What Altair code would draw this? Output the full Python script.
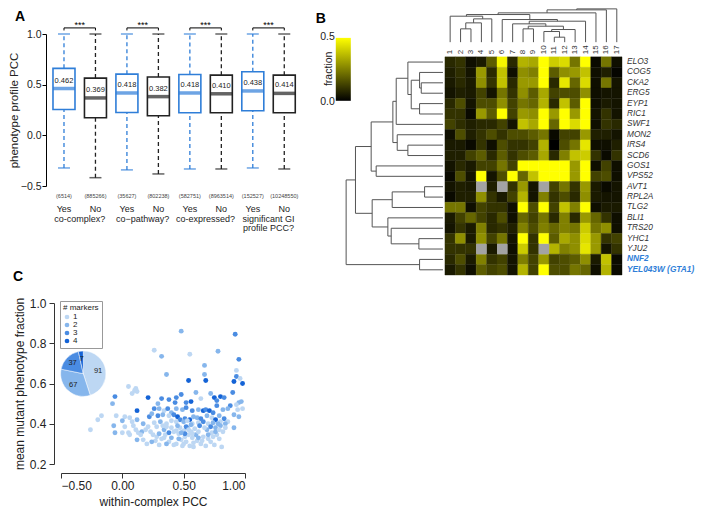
import altair as alt
import pandas as pd

FONT = "Liberation Sans"
BLUE = "#2F7ED8"
DARK = "#222222"

# ---------------- Panel A data ----------------
a_answer = ["Yes", "No", "Yes", "No", "Yes", "No", "Yes", "No"]
a_median = [0.462, 0.369, 0.418, 0.382, 0.418, 0.410, 0.438, 0.414]
a_q1 = [0.255, 0.173, 0.226, 0.193, 0.223, 0.223, 0.242, 0.223]
a_q3 = [0.661, 0.565, 0.604, 0.575, 0.601, 0.594, 0.628, 0.594]
a_lower = [-0.322, -0.418, -0.341, -0.381, -0.332, -0.332, -0.322, -0.332]
a_upper = [1.0, 1.0, 1.0, 1.0, 1.0, 1.0, 1.0, 1.0]
a_n = ["(6514)", "(885266)", "(35627)", "(802238)", "(582751)", "(8963514)", "(152527)", "(10248550)"]
a_group_line1 = ["co-complex?", "co\u2212pathway?", "co-expressed?", "significant GI"]
a_group_line2 = ["", "", "", "profile PCC?"]
a_stars = ["***", "***", "***", "***"]

# ---------------- Panel B data ----------------
b_cols = [str(i) for i in range(1, 18)]
b_rows = ["ELO3", "COG5", "CKA2", "ERG5", "EYP1", "RIC1", "SWF1", "MON2", "IRS4", "SCD6",
          "GOS1", "VPS52", "AVT1", "RPL2A", "TLG2", "BLI1", "TRS20", "YHC1", "YJU2",
          "NNF2", "YEL043W (GTA1)"]
b_highlight = ["NNF2", "YEL043W (GTA1)"]
b_legend_labels = ["0.5", "0.0"]
N = None
b_values = [
    [0.08, 0.10, 0.03, 0.05, 0.18, 0.48, 0.08, 0.35, 0.33, 0.50, 0.40, 0.43, 0.23, 0.50, 0.02, 0.23, 0.03],
    [0.06, 0.09, 0.04, 0.30, 0.08, 0.38, 0.03, 0.28, 0.25, 0.50, 0.18, 0.28, 0.30, 0.38, 0.03, 0.06, 0.01],
    [0.05, 0.08, 0.05, 0.28, 0.10, 0.38, 0.08, 0.30, 0.30, 0.50, 0.08, 0.45, 0.20, 0.43, 0.03, 0.23, 0.04],
    [0.04, 0.06, 0.05, 0.13, 0.04, 0.23, 0.10, 0.28, 0.18, 0.33, 0.13, 0.15, 0.15, 0.28, 0.03, 0.04, 0.04],
    [0.08, 0.15, 0.04, 0.15, 0.15, 0.28, 0.13, 0.23, 0.20, 0.35, 0.08, 0.38, 0.18, 0.50, 0.03, 0.05, 0.04],
    [0.10, 0.10, 0.02, 0.30, 0.18, 0.50, 0.13, 0.30, 0.28, 0.50, 0.30, 0.50, 0.30, 0.50, 0.04, 0.10, 0.04],
    [0.13, 0.09, 0.06, 0.08, 0.08, 0.13, 0.04, 0.38, 0.33, 0.50, 0.20, 0.50, 0.43, 0.50, 0.03, 0.10, 0.08],
    [0.03, 0.15, 0.06, 0.10, 0.15, 0.10, 0.15, 0.15, 0.18, 0.23, 0.02, 0.13, 0.13, 0.30, 0.06, 0.06, 0.04],
    [0.05, 0.05, 0.02, 0.10, 0.03, 0.15, 0.10, 0.10, 0.13, 0.35, 0.00, 0.15, 0.23, 0.45, 0.03, 0.03, 0.06],
    [0.06, 0.06, 0.13, 0.18, 0.08, 0.18, 0.10, 0.15, 0.18, 0.33, 0.08, 0.25, 0.38, 0.40, 0.10, 0.02, 0.10],
    [0.04, 0.08, 0.05, 0.13, 0.13, 0.23, 0.13, 0.50, 0.50, 0.50, 0.50, 0.50, 0.30, 0.50, 0.03, 0.13, 0.03],
    [0.02, 0.15, 0.04, 0.50, 0.04, 0.15, 0.50, 0.20, 0.38, 0.50, 0.50, 0.50, 0.30, 0.50, 0.13, 0.15, 0.03],
    [0.04, 0.06, 0.05, N, 0.06, N, 0.10, 0.30, 0.04, N, 0.13, 0.23, 0.10, 0.30, 0.05, 0.02, 0.04],
    [0.02, 0.06, 0.06, 0.28, 0.10, 0.05, 0.13, 0.35, 0.04, 0.25, 0.10, 0.15, 0.08, 0.28, 0.05, 0.04, 0.04],
    [0.23, 0.23, 0.03, 0.13, 0.10, 0.10, 0.03, 0.50, 0.15, 0.50, 0.13, 0.38, 0.25, 0.50, 0.03, 0.05, 0.05],
    [0.05, 0.13, 0.20, 0.13, 0.08, 0.15, 0.03, 0.20, 0.13, 0.23, 0.08, 0.25, 0.08, 0.30, 0.20, 0.10, 0.03],
    [0.04, 0.10, 0.05, 0.25, 0.08, 0.10, 0.06, 0.25, 0.15, 0.25, 0.20, 0.25, 0.23, 0.40, 0.23, 0.28, 0.03],
    [0.10, 0.28, 0.05, 0.28, 0.13, 0.23, 0.04, 0.50, 0.10, 0.50, 0.18, 0.33, 0.28, 0.43, 0.30, 0.10, 0.13],
    [0.10, 0.10, 0.10, N, 0.05, N, 0.03, 0.40, 0.10, N, 0.35, 0.25, 0.28, 0.45, 0.30, 0.04, 0.10],
    [0.08, 0.15, 0.05, 0.25, 0.10, 0.13, 0.04, 0.25, 0.13, 0.30, 0.13, 0.15, 0.18, 0.28, 0.05, 0.38, 0.02],
    [0.05, 0.10, 0.03, 0.18, 0.13, 0.15, 0.04, 0.35, 0.13, 0.50, 0.15, 0.15, 0.23, 0.20, 0.03, 0.35, 0.02],
]
# hclust-style merges: negative = leaf (1-based), positive = earlier merge (1-based); last = height
b_col_merge = [
    (-2, -3, 40), (1, -4, 58), (2, -5, 70), (-1, 3, 78),
    (-11, -12, 15), (-10, 5, 32), (6, -13, 38), (-8, -9, 40),
    (8, 7, 48), (-7, 9, 55), (10, -14, 63), (-6, 11, 68),
    (4, 12, 83), (13, -15, 88), (14, -16, 97), (15, -17, 100),
]
b_row_merge = [
    (-3, -4, 65), (-2, 1, 70), (-5, -6, 70), (2, 3, 95), (-1, 4, 105),
    (5, -7, 140), (-9, -10, 105), (-8, 7, 137), (6, 8, 150), (-11, -12, 200),
    (9, 10, 215), (-13, -14, 55), (12, -15, 152), (-18, -19, 72), (-17, 14, 155),
    (-16, 15, 165), (13, 16, 212), (11, 17, 262), (-20, -21, 70), (18, 19, 290),
]

# ---------------- Panel C data: (within-complex PCC, mean mutant phenotype fraction, # markers) ----------------
c_points = [
    (0.48, 0.86, 2), (0.26, 0.765, 1), (0.32, 0.735, 2), (0.55, 0.745, 1), (0.78, 0.76, 2),
    (0.92, 0.845, 3), (0.95, 0.72, 3), (0.93, 0.665, 1), (0.67, 0.69, 2), (0.67, 0.645, 2),
    (0.36, 0.645, 2), (0.54, 0.615, 4), (0.68, 0.615, 4), (0.91, 0.61, 4), (0.93, 0.635, 3),
    (0.96, 0.625, 1), (0.98, 0.60, 4),
    (0.05, 0.585, 1), (0.10, 0.565, 1), (0.12, 0.56, 1), (0.08, 0.55, 1), (0.11, 0.575, 1),
    (-0.06, 0.535, 3), (0.21, 0.53, 4), (0.32, 0.525, 3), (0.38, 0.52, 3), (0.44, 0.53, 3),
    (0.48, 0.545, 3), (0.60, 0.555, 2), (0.64, 0.525, 1), (0.72, 0.55, 2), (0.75, 0.53, 4),
    (0.80, 0.535, 4), (0.77, 0.515, 3), (0.83, 0.53, 3), (0.90, 0.555, 3), (0.95, 0.505, 2),
    (0.97, 0.51, 2), (0.52, 0.505, 3), (0.56, 0.51, 4), (0.43, 0.505, 3), (0.29, 0.50, 2),
    (-0.08, 0.50, 2), (0.88, 0.49, 3), (0.93, 0.495, 1),
    (0.12, 0.465, 4), (0.26, 0.475, 3), (0.30, 0.475, 2), (0.34, 0.465, 1), (0.37, 0.475, 3),
    (0.40, 0.455, 2), (0.44, 0.475, 2), (0.49, 0.47, 2), (0.52, 0.48, 3), (0.57, 0.465, 3),
    (0.62, 0.47, 2), (0.66, 0.465, 4), (0.68, 0.47, 3), (0.71, 0.465, 4), (0.74, 0.455, 3),
    (0.77, 0.49, 3), (0.82, 0.47, 2), (0.86, 0.475, 2), (0.94, 0.47, 1), (0.98, 0.475, 1),
    (0.95, 0.435, 2), (0.91, 0.445, 2), (0.02, 0.435, 1), (0.06, 0.43, 1), (-0.05, 0.44, 1),
    (-0.17, 0.44, 1), (-0.20, 0.42, 1), (0.22, 0.435, 3), (0.24, 0.45, 2), (0.29, 0.44, 3),
    (0.33, 0.445, 2), (0.38, 0.44, 1), (0.42, 0.445, 3), (0.45, 0.435, 4), (0.47, 0.42, 3),
    (0.51, 0.425, 3), (0.55, 0.42, 4), (0.58, 0.435, 2), (0.61, 0.43, 2), (0.64, 0.425, 3),
    (0.69, 0.44, 2), (0.73, 0.43, 1), (0.76, 0.42, 4), (0.79, 0.44, 2), (0.83, 0.425, 3),
    (0.86, 0.41, 1), (0.08, 0.41, 1), (0.12, 0.42, 2), (0.00, 0.415, 2), (0.17, 0.40, 2),
    (0.26, 0.405, 1), (0.31, 0.41, 2), (0.36, 0.40, 1), (0.40, 0.415, 1), (0.44, 0.41, 1),
    (0.50, 0.41, 2), (0.53, 0.415, 1), (0.57, 0.40, 1), (0.62, 0.405, 1), (0.66, 0.41, 3),
    (0.70, 0.40, 1), (0.74, 0.405, 2), (0.80, 0.41, 1), (0.84, 0.40, 2),
    (-0.26, 0.37, 1), (-0.07, 0.39, 2), (-0.06, 0.355, 2), (0.00, 0.355, 1), (0.05, 0.355, 1),
    (0.09, 0.39, 1), (0.11, 0.37, 1), (0.13, 0.355, 1), (0.16, 0.36, 2), (0.19, 0.37, 1),
    (0.21, 0.385, 1), (0.23, 0.36, 1), (0.25, 0.345, 1), (0.12, 0.32, 2), (0.17, 0.32, 1),
    (0.20, 0.30, 1), (0.28, 0.335, 1), (0.30, 0.35, 2), (0.32, 0.325, 1), (0.34, 0.37, 2),
    (0.36, 0.385, 1), (0.35, 0.345, 1), (0.38, 0.31, 1), (0.40, 0.33, 2), (0.42, 0.36, 1),
    (0.44, 0.30, 1), (0.46, 0.35, 1), (0.47, 0.38, 1), (0.48, 0.32, 1), (0.49, 0.29, 1),
    (0.50, 0.365, 1), (0.51, 0.335, 1), (0.52, 0.31, 1), (0.53, 0.38, 2), (0.54, 0.345, 1),
    (0.55, 0.29, 1), (0.56, 0.36, 1), (0.57, 0.33, 1), (0.58, 0.305, 1), (0.59, 0.375, 1),
    (0.60, 0.345, 2), (0.61, 0.315, 1), (0.62, 0.36, 1), (0.64, 0.30, 1), (0.66, 0.335, 1),
    (0.68, 0.29, 1), (0.69, 0.37, 2), (0.70, 0.325, 1), (0.72, 0.31, 1), (0.73, 0.355, 1),
    (0.75, 0.295, 1), (0.76, 0.38, 2), (0.77, 0.345, 1), (0.79, 0.325, 1), (0.80, 0.39, 2),
    (0.81, 0.285, 1), (0.82, 0.36, 1), (0.30, 0.295, 1), (0.27, 0.315, 1), (0.42, 0.295, 1),
    (0.36, 0.30, 2), (0.46, 0.325, 2), (0.51, 0.35, 3), (0.52, 0.385, 3), (0.56, 0.395, 2),
    (0.45, 0.39, 2), (0.40, 0.38, 1), (0.33, 0.39, 1), (0.28, 0.385, 1), (0.63, 0.39, 3),
    (0.67, 0.38, 1), (0.72, 0.385, 3), (0.76, 0.36, 2), (0.78, 0.40, 2), (0.70, 0.345, 2),
    (0.58, 0.285, 1), (0.48, 0.355, 2), (0.62, 0.33, 2), (0.54, 0.37, 1), (0.91, 0.38, 2),
    (0.84, 0.38, 1), (0.06, 0.345, 1), (0.02, 0.385, 1), (0.15, 0.345, 1), (0.24, 0.31, 2),
    (0.38, 0.355, 3), (0.44, 0.365, 1), (0.65, 0.315, 1), (0.74, 0.335, 1), (0.34, 0.33, 1),
    (0.50, 0.30, 1), (0.57, 0.35, 1), (0.79, 0.37, 1),
]
c_x = [p[0] for p in c_points]
c_y = [p[1] for p in c_points]
c_m = [str(p[2]) for p in c_points]
c_pie_n = [91, 67, 37, 7]
c_pie_m = ["1", "2", "3", "4"]
c_colors = ["#BDD7F3", "#86B6EC", "#4A8CE2", "#1463D6"]

# ================= Panel A =================
a_pos = list(range(8))
a_col = [BLUE if a == "Yes" else DARK for a in a_answer]
dfA = pd.DataFrame(dict(pos=a_pos, answer=a_answer, med=a_median, q1=a_q1, q3=a_q3,
                        lo=a_lower, hi=a_upper, n=a_n, col=a_col,
                        medlab=[f"{m:.3f}" for m in a_median]))
dfA["ny"] = -0.596
dfA["ay"] = -0.725
dfG = pd.DataFrame(dict(gx=[0.5, 2.5, 4.5, 6.5], g1=a_group_line1, g2=a_group_line2, st=a_stars,
                        bx1=[0, 2, 4, 6], bx2=[1, 3, 5, 7]))
dfG["gy1"] = -0.824
dfG["gy2"] = -0.913
dfG["by"] = 1.06
dfG["sy"] = 1.09
dfBt = pd.DataFrame(dict(tx=a_pos))
dfBt["ty"] = 1.06
dfBt["ty2"] = 1.035

xA = alt.Scale(domain=[-0.095, 7.5], nice=False, zero=False, padding=0)
yA = alt.Scale(domain=[-0.5, 1.0], nice=False, zero=False, padding=0)
axA = alt.Axis(values=[-0.5, 0, 0.5, 1.0], format=".1f", title="phenotype profile PCC", offset=15,
               tickSize=4, labelPadding=1, titlePadding=1, grid=False, domainColor="#000",
               tickColor="#000", labelColor="#222", titleColor="#222", labelFontSize=10.5,
               titleFontSize=11.5, labelFont=FONT, titleFont=FONT, titleFontWeight="normal")


def XA(f):
    return alt.X(f, type="quantitative", scale=xA, axis=None)


def YA(f):
    return alt.Y(f, type="quantitative", scale=yA, axis=axA)


colA = alt.Color("col:N", scale=None)
baseA = alt.Chart(dfA)
A = alt.layer(
    baseA.mark_rule(strokeDash=[4, 3], strokeWidth=1.3).encode(x=XA("pos"), y=YA("q3"), y2="hi", color=colA),
    baseA.mark_rule(strokeDash=[4, 3], strokeWidth=1.3).encode(x=XA("pos"), y=YA("lo"), y2="q1", color=colA),
    baseA.mark_tick(orient="horizontal", size=12, thickness=1.5).encode(x=XA("pos"), y=YA("hi"), color=colA),
    baseA.mark_tick(orient="horizontal", size=12, thickness=1.5).encode(x=XA("pos"), y=YA("lo"), color=colA),
    baseA.mark_bar(orient="vertical", size=22, fill="white", strokeWidth=1.6).encode(
        x=XA("pos"), y=YA("q1"), y2="q3", stroke=alt.Stroke("col:N", scale=None)),
    baseA.mark_tick(orient="horizontal", size=22, thickness=3.5).encode(x=XA("pos"), y=YA("med"), color=colA),
    baseA.mark_text(dy=-8, fontSize=7.5, font=FONT, color="#222").encode(x=XA("pos"), y=YA("med"), text="medlab"),
    baseA.mark_text(fontSize=5.5, font=FONT, color="#444").encode(x=XA("pos"), y=YA("ny"), text="n"),
    baseA.mark_text(fontSize=9, font=FONT, color="#222").encode(x=XA("pos"), y=YA("ay"), text="answer"),
    alt.Chart(dfG).mark_text(fontSize=9, font=FONT, color="#222").encode(x=XA("gx"), y=YA("gy1"), text="g1"),
    alt.Chart(dfG).mark_text(fontSize=9, font=FONT, color="#222").encode(x=XA("gx"), y=YA("gy2"), text="g2"),
    alt.Chart(dfG).mark_rule(color="#000", strokeWidth=1).encode(x=XA("bx1"), x2="bx2", y=YA("by")),
    alt.Chart(dfBt).mark_rule(color="#000", strokeWidth=1).encode(x=XA("tx"), y=YA("ty"), y2="ty2"),
    alt.Chart(dfG).mark_text(fontSize=9, font=FONT, color="#000").encode(x=XA("gx"), y=YA("sy"), text="st"),
    alt.Chart(pd.DataFrame({"t": ["A"]})).mark_text(fontSize=14, fontWeight="bold", font=FONT, color="#000").encode(
        x=alt.value(-41), y=alt.value(-17), text="t"),
).properties(width=239, height=152)

# ================= Panel B =================
CELL = 10.4  # pixel size of a heatmap cell
heat_rows, na_rows = [], []
for r, row in enumerate(b_values):
    for c, v in enumerate(row):
        rec = dict(c0=c, c1=c + 1, r0=r, r1=r + 1, v=v)
        (na_rows if v is None else heat_rows).append(rec)
dfH = pd.DataFrame(heat_rows)
dfNA = pd.DataFrame(na_rows)


def dendro(merges, leaf_pos, h2coord, base):
    nodes = {}
    segs = []

    def get(k):
        if k < 0:
            return leaf_pos[-k - 1], base
        return nodes[k]

    for j, (a, b, h) in enumerate(merges, start=1):
        pa, ca = get(a)
        pb, cb = get(b)
        ch = h2coord(h)
        segs.append((pa, ca, pa, ch))
        segs.append((pb, cb, pb, ch))
        segs.append((pa, ch, pb, ch))
        nodes[j] = ((pa + pb) / 2, ch)
    return segs


col_segs = dendro(b_col_merge, [i + 0.5 for i in range(17)], lambda h: (-14.7 - h / 3) / CELL, -14.7 / CELL)
dfCD = pd.DataFrame([dict(x=p1, y=c1, x2=p2, y2=c2) for (p1, c1, p2, c2) in col_segs])
row_segs = dendro(b_row_merge, [r + 0.5 for r in range(21)], lambda h: (-2 - h / 3) / CELL, -2 / CELL)
dfRD = pd.DataFrame([dict(y=p1, x=c1, y2=p2, x2=c2) for (p1, c1, p2, c2) in row_segs])

dfCL = pd.DataFrame(dict(cx=[i + 0.5 for i in range(17)], lab=b_cols))
dfCL["cy"] = -0.25
dfRL = pd.DataFrame(dict(ry=[r + 0.5 for r in range(21)], lab=b_rows))
dfRL["rx"] = 17
dfRL["hl"] = dfRL["lab"].isin(b_highlight)

# colour bar (legend) placed beside the row dendrogram, in cell units
dfCB = pd.DataFrame(dict(x0=[-109 / CELL], x1=[-94 / CELL], y0=[-19 / CELL], y1=[44 / CELL]))
dfCBL = pd.DataFrame(dict(t=b_legend_labels, lx=[-110 / CELL] * 2, ly=[-20 / CELL, 45 / CELL]))
dfAnnB = pd.DataFrame(dict(t=["fraction"], lx=[-116 / CELL], ly=[12 / CELL]))
dfLetB = pd.DataFrame(dict(t=["B"], lx=[-124 / CELL], ly=[-38 / CELL]))

XMIN, YMIN = -9.5, -2.2
xB = alt.Scale(domain=[XMIN, 17], nice=False, zero=False, padding=0)
yB = alt.Scale(domain=[21, YMIN], nice=False, zero=False, padding=0)


def XB(f):
    return alt.X(f, type="quantitative", scale=xB, axis=None)


def YB(f):
    return alt.Y(f, type="quantitative", scale=yB, axis=None)


heat_scale = alt.Scale(domain=[0, 0.5], range=["#000000", "#ffff00"], interpolate="rgb")
cb_fill = alt.LinearGradient(gradient="linear", x1=0, x2=0, y1=1, y2=0, stops=[
    alt.GradientStop(offset=0, color="#000000"), alt.GradientStop(offset=1, color="#ffff00")])
B = alt.layer(
    alt.Chart(dfH).mark_rect(strokeWidth=0.4).encode(
        x=XB("c0"), x2="c1", y=YB("r0"), y2="r1",
        fill=alt.Fill("v:Q", scale=heat_scale, legend=None),
        stroke=alt.Stroke("v:Q", scale=heat_scale, legend=None)),
    alt.Chart(dfNA).mark_rect(fill="#A3A3A3").encode(x=XB("c0"), x2="c1", y=YB("r0"), y2="r1"),
    alt.Chart(dfCD).mark_rule(color="#555", strokeWidth=1).encode(x=XB("x"), x2="x2", y=YB("y"), y2="y2"),
    alt.Chart(dfRD).mark_rule(color="#555", strokeWidth=1).encode(x=XB("x"), x2="x2", y=YB("y"), y2="y2"),
    alt.Chart(dfCB).mark_rect(fill=cb_fill).encode(x=XB("x0"), x2="x1", y=YB("y0"), y2="y1"),
    alt.Chart(dfCL).mark_text(angle=270, align="left", baseline="middle", fontSize=8, font=FONT,
                              color="#333").encode(x=XB("cx"), y=YB("cy"), text="lab"),
    alt.Chart(dfRL[~dfRL["hl"]]).mark_text(align="left", baseline="middle", dx=5, fontSize=8.3,
                                           fontStyle="italic", font=FONT, color="#333").encode(
        x=XB("rx"), y=YB("ry"), text="lab"),
    alt.Chart(dfRL[dfRL["hl"]]).mark_text(align="left", baseline="middle", dx=5, fontSize=8.3,
                                          fontStyle="italic", fontWeight="bold", font=FONT,
                                          color=BLUE).encode(x=XB("rx"), y=YB("ry"), text="lab"),
    alt.Chart(dfAnnB).mark_text(angle=270, fontSize=10.5, font=FONT, color="#222", baseline="middle").encode(
        x=XB("lx"), y=YB("ly"), text="t"),
    alt.Chart(dfCBL).mark_text(fontSize=10.5, font=FONT, color="#222", align="right", baseline="middle").encode(
        x=XB("lx"), y=YB("ly"), text="t"),
    alt.Chart(dfLetB).mark_text(fontSize=14, fontWeight="bold", font=FONT, color="#000").encode(
        x=XB("lx"), y=YB("ly"), text="t"),
).properties(width=round((17 - XMIN) * CELL), height=round((21 - YMIN) * CELL))

# ================= Panel C =================
dfP = pd.DataFrame(dict(x=c_x, y=c_y, m=c_m))
dfPie = pd.DataFrame(dict(n=c_pie_n, m=c_pie_m, k=[0, 1, 2, 3]))
colC = alt.Color("m:N", scale=alt.Scale(domain=c_pie_m, range=c_colors), legend=alt.Legend(
    orient="none", legendX=-1, legendY=-2, title="# markers", titleFontSize=8, titleFontWeight="normal",
    titleFont=FONT, labelFont=FONT, labelFontSize=8, symbolSize=22, symbolType="circle",
    strokeColor="#999999", fillColor="white", padding=3, rowPadding=0, titlePadding=1, labelOffset=2,
    titleColor="#222", labelColor="#222"))
xC = alt.X("x:Q", scale=alt.Scale(domain=[-0.5, 1.0], nice=False, zero=False, padding=0), axis=alt.Axis(
    values=[-0.5, 0, 0.5, 1.0], format=".2f", offset=9, tickSize=5, grid=False, title="within-complex PCC",
    labelFontSize=12, titleFontSize=12, labelFont=FONT, titleFont=FONT, titleFontWeight="normal",
    domainColor="#333", tickColor="#333", labelColor="#222", titleColor="#222", labelPadding=2,
    titlePadding=5))
yC = alt.Y("y:Q", scale=alt.Scale(domain=[0.2, 1.0], nice=False, zero=False, padding=0), axis=alt.Axis(
    values=[0.2, 0.4, 0.6, 0.8, 1.0], format=".1f", offset=7, tickSize=5, grid=False,
    title="mean mutant phenotype fraction", labelFontSize=12, titleFontSize=12, labelFont=FONT,
    titleFont=FONT, titleFontWeight="normal", domainColor="#333", tickColor="#333", labelColor="#222",
    titleColor="#222", labelPadding=3, titlePadding=3))
C = alt.layer(
    alt.Chart(dfP).mark_circle(size=24, opacity=1).encode(x=xC, y=yC, color=colC),
    alt.Chart(dfPie).mark_arc(outerRadius=22.7, stroke="white", strokeWidth=0.5).encode(
        theta=alt.Theta("n:Q", stack=True), color=colC, order=alt.Order("k:Q"),
        x=alt.value(22.3), y=alt.value(70.7)),
    alt.Chart(dfPie).mark_text(radius=15, fontSize=7.5, font=FONT, color="#222").encode(
        theta=alt.Theta("n:Q", stack=True), order=alt.Order("k:Q"), text="n:Q",
        x=alt.value(22.3), y=alt.value(70.7)),
    alt.Chart(pd.DataFrame({"t": ["C"]})).mark_text(fontSize=14, fontWeight="bold", font=FONT,
                                                    color="#000").encode(x=alt.value(-43), y=alt.value(-26), text="t"),
).properties(width=184, height=161)

left = alt.vconcat(A, C, spacing=37).resolve_scale(color="independent").resolve_legend(color="independent")
chart = alt.ConcatChart(concat=[left, B], columns=2, align="none", spacing=15).resolve_scale(
    color="independent", fill="independent", stroke="independent").resolve_legend(
    color="independent").properties(padding=0).configure(font=FONT).configure_view(stroke=None)

chart.save("out.html", embed_options={"renderer": "svg", "actions": False})
